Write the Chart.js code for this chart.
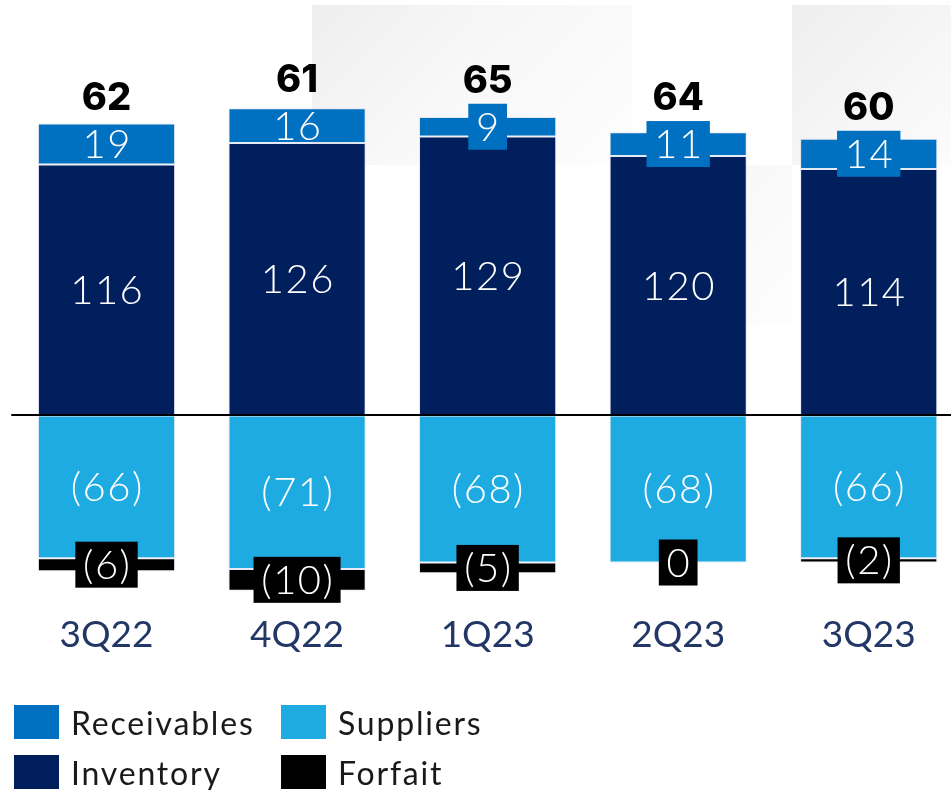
<!DOCTYPE html>
<html>
<head>
<meta charset="utf-8">
<script src="https://cdn.jsdelivr.net/npm/chart.js@4.4.0/dist/chart.umd.min.js"></script>
<style>
  html, body { margin: 0; padding: 0; background: #fff; overflow: hidden; width: 951px; height: 790px; }
  #wrap { position: relative; width: 964px; height: 790px; }
  .tile { position: absolute; width: 160px; height: 160px; background: linear-gradient(135deg, #eeeeee 0%, #f6f6f6 55%, #fcfcfc 100%); }
  #chart { position: absolute; left: 0; top: 0; }
  #legend { position: absolute; left: 14px; top: 705px; display: grid; grid-template-columns: 267px 220px; row-gap: 16px;
            font-family: Lato, sans-serif; font-size: 32px; letter-spacing: 1.8px; color: #1a1a1a; }
  .item { display: flex; align-items: center; height: 34px; white-space: nowrap; }
  .sw { width: 45px; height: 34px; margin-right: 12px; flex: none; }
</style>
</head>
<body>
<div id="wrap">
  <div class="tile" style="left:312px;top:5px"></div>
  <div class="tile" style="left:472px;top:5px;opacity:.55"></div>
  <div class="tile" style="left:792px;top:5px"></div>
  <div class="tile" style="left:632px;top:165px;opacity:.6"></div>
  <canvas id="chart" width="964" height="790"></canvas>
  <div id="legend"></div>
</div>
<script>
// Quarterly working capital components
const categories  = ['3Q22', '4Q22', '1Q23', '2Q23', '3Q23'];
const inventory   = [116, 126, 129, 120, 114];
const receivables = [19, 16, 9, 11, 14];
const suppliers   = [-66, -71, -68, -68, -66];
const forfait     = [-6, -10, -5, 0, -2];
const totals      = [62, 61, 65, 64, 60];

const COLORS = {
  receivables: '#0070c0',
  inventory: '#001f5c',
  suppliers: '#1eabe2',
  forfait: '#000000'
};

const LABEL_FONT = '300 40px Lato, sans-serif';
const TOTAL_FONT = '800 38px Inter, sans-serif';
const BOX_H = 46;

function fmt(v) { return v < 0 ? '(' + (-v) + ')' : String(v); }

// A series counts as negative when any of its values is below zero;
// its zero entries then sit at the foot of the negative stack.
function isNegativeSeries(ds) { return ds.data.some(v => v < 0); }

// Segment labels, label boxes for thin segments, zero line and totals
const labelPlugin = {
  id: 'segmentLabels',
  afterDatasetsDraw(chart) {
    const ctx = chart.ctx;
    const yScale = chart.scales.y;
    const area = chart.chartArea;
    const sets = chart.data.datasets;
    ctx.save();

    // zero baseline
    const y0 = yScale.getPixelForValue(0);
    ctx.fillStyle = '#000';
    ctx.fillRect(area.left, Math.round(y0) - 1, chart.width - area.left, 2);

    ctx.font = LABEL_FONT;
    ctx.letterSpacing = '1.5px';
    const digitH = ctx.measureText('0').actualBoundingBoxAscent;
    const boxTops = [];

    sets.forEach((ds, di) => {
      const meta = chart.getDatasetMeta(di);
      const neg = isNegativeSeries(ds);
      meta.data.forEach((bar, i) => {
        const v = ds.data[i];
        // start of this segment within its stack
        let start = 0;
        for (let k = 0; k < di; k++) {
          if (isNegativeSeries(sets[k]) === neg) start += sets[k].data[i];
        }
        const yA = yScale.getPixelForValue(start);
        const yB = yScale.getPixelForValue(start + v);
        const cy = (yA + yB) / 2;
        const segH = Math.abs(yB - yA);
        const txt = fmt(v);
        ctx.font = LABEL_FONT;
        const w = ctx.measureText(txt).width;
        if (ds.labelBox) {
          if (!neg) boxTops[i] = cy - BOX_H / 2;
          if (segH < 33) {
            ctx.fillStyle = ds.backgroundColor;
            ctx.fillRect(bar.x - w / 2 - 7, cy - BOX_H / 2, w + 14, BOX_H);
          }
        }
        ctx.fillStyle = '#ffffff';
        ctx.textAlign = 'center';
        ctx.textBaseline = 'alphabetic';
        ctx.fillText(txt, bar.x + 0.75, cy + digitH / 2);
      });
    });

    // totals above each stack
    const recMeta = chart.getDatasetMeta(1);
    ctx.font = TOTAL_FONT;
    ctx.letterSpacing = '0px';
    ctx.fillStyle = '#000';
    ctx.textAlign = 'center';
    ctx.textBaseline = 'alphabetic';
    recMeta.data.forEach((bar, i) => {
      const top = Math.min(bar.y, boxTops[i]);
      ctx.fillText(String(totals[i]), bar.x, top - 11);
    });
    ctx.restore();
  }
};

const datasets = [
  { label: 'Inventory',   data: inventory,   backgroundColor: COLORS.inventory },
  { label: 'Receivables', data: receivables, backgroundColor: COLORS.receivables, labelBox: true },
  { label: 'Suppliers',   data: suppliers,   backgroundColor: COLORS.suppliers },
  { label: 'Forfait',     data: forfait,     backgroundColor: COLORS.forfait, labelBox: true }
];
datasets.forEach(d => {
  d.borderWidth = 1;
  d.borderSkipped = false;
  d.borderColor = 'rgba(150,170,210,0.25)';
  d.barPercentage = 0.72;
  d.categoryPercentage = 1.0;
});

new Chart(document.getElementById('chart'), {
  type: 'bar',
  data: { labels: categories, datasets },
  options: {
    responsive: false,
    animation: false,
    events: [],
    layout: { padding: { left: 11.25, right: 0, top: 4.55, bottom: 129.5 } },
    plugins: { legend: { display: false }, tooltip: { enabled: false } },
    scales: {
      x: {
        stacked: true,
        grid: { display: false, drawTicks: false },
        border: { display: false },
        ticks: { padding: 3, color: '#233766', font: { family: 'Lato, sans-serif', size: 37, weight: 400 } }
      },
      y: {
        stacked: true,
        display: false,
        min: -90,
        max: 190
      }
    }
  },
  plugins: [labelPlugin]
});

// Legend in two columns: Receivables / Suppliers, Inventory / Forfait
const legendOrder = ['Receivables', 'Suppliers', 'Inventory', 'Forfait'];
const legendEl = document.getElementById('legend');
legendOrder.forEach(name => {
  const ds = datasets.find(d => d.label === name);
  const item = document.createElement('div');
  item.className = 'item';
  const sw = document.createElement('span');
  sw.className = 'sw';
  sw.style.background = ds.backgroundColor;
  const t = document.createElement('span');
  t.textContent = ds.label;
  item.appendChild(sw);
  item.appendChild(t);
  legendEl.appendChild(item);
});
</script>
</body>
</html>
